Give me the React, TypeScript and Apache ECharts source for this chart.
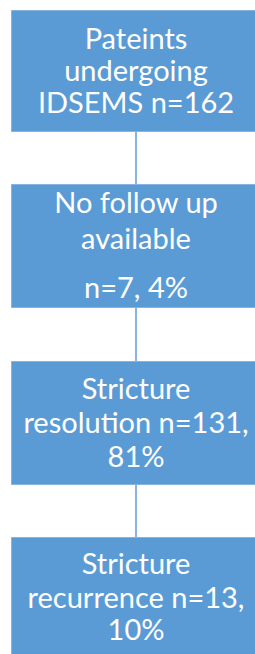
import React, { useEffect, useRef } from "react";
import * as echarts from "echarts";

// Flowchart steps (text lines of each box)
const step1Lines = ["Pateints", "undergoing", "IDSEMS n=162"];
const step2Lines = ["No follow up", "available", "n=7, 4%"];
const step3Lines = ["Stricture", "resolution n=131,", "81%"];
const step4Lines = ["Stricture", "recurrence n=13,", "10%"];
const steps = [step1Lines, step2Lines, step3Lines, step4Lines];

// Layout (pixels)
const BOX_X = 11;
const BOX_W = 250;
const boxTops = [10, 184, 361, 537];
const boxBottoms = [131, 307, 484, 680];
const lineBaselines = [
  [37, 69, 101],
  [27, 63, 112],
  [36, 70, 104],
  [35, 69, 101],
];

const FILL = "#5B9BD5";
const FONT = "Lato, 'Open Sans', sans-serif";
const FONT_SIZE = 29;

export default function App() {
  const ref = useRef<HTMLDivElement>(null);
  useEffect(() => {
    document.body.style.margin = "0";
    if (!ref.current) return;
    const chart = echarts.init(ref.current, null, { renderer: "svg" });
    const elements: any[] = [];
    const cx = BOX_X + BOX_W / 2;
    steps.forEach((lines, i) => {
      elements.push({
        type: "rect",
        shape: { x: BOX_X + 0.5, y: boxTops[i] + 0.5, width: BOX_W, height: boxBottoms[i] - boxTops[i] },
        style: { fill: FILL, stroke: "#86B3E0", lineWidth: 1 },
        z: 1,
      });
      lines.forEach((t, j) => {
        elements.push({
          type: "text",
          x: cx,
          y: boxTops[i] + lineBaselines[i][j] - 10,
          style: {
            text: t,
            fill: "#ffffff",
            font: `${FONT_SIZE}px ${FONT}`,
            align: "center",
            verticalAlign: "middle",
          },
          z: 3,
        });
      });
      if (i < steps.length - 1) {
        elements.push({
          type: "line",
          shape: { x1: cx, y1: boxBottoms[i], x2: cx, y2: boxTops[i + 1] },
          style: { stroke: FILL, lineWidth: 1.5 },
          z: 0,
        });
      }
    });
    chart.setOption({
      animation: false,
      backgroundColor: "#ffffff",
      graphic: { elements },
    });
    return () => chart.dispose();
  }, []);
  return <div ref={ref} style={{ width: 255, height: 654 }} />;
}
